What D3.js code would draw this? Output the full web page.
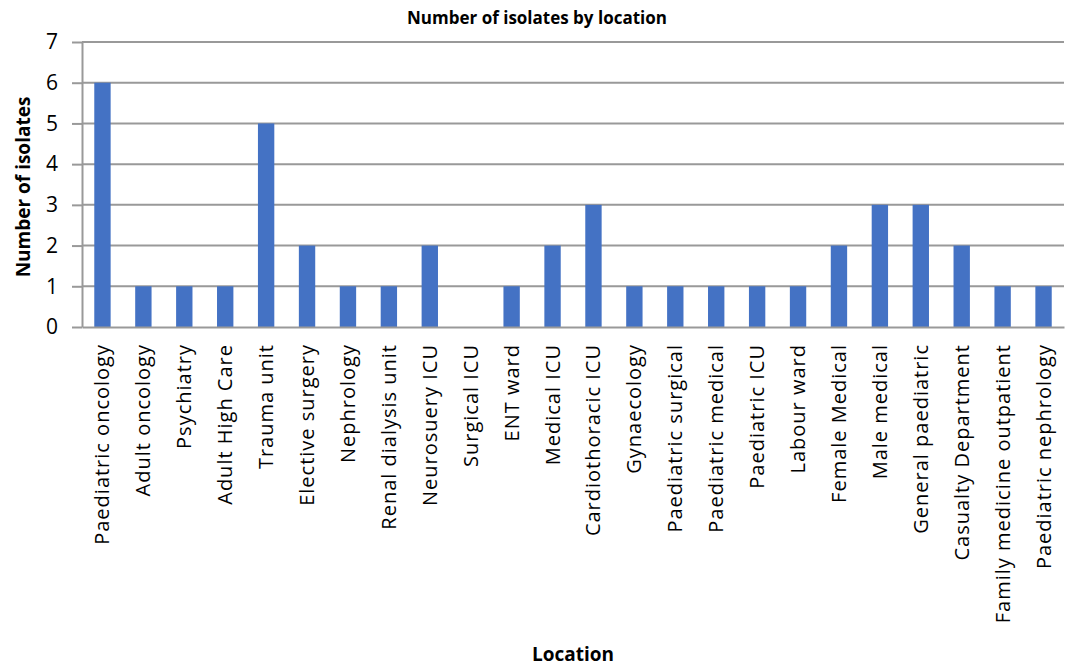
<!DOCTYPE html>
<html>
<head>
<meta charset="utf-8">
<script src="https://cdn.jsdelivr.net/npm/d3@7"></script>
<style>
  body { margin: 0; background: #fff; }
  svg text { font-family: "Open Sans", "Noto Sans", sans-serif; fill: #000; }
  .title { font-weight: bold; font-size: 17px; }
  .axis-label { font-weight: bold; font-size: 19px; }
</style>
</head>
<body>
<svg id="chart" width="1072" height="667"></svg>
<script>
// DATA
const locations = [
  "Paediatric oncology", "Adult oncology", "Psychiatry", "Adult High Care",
  "Trauma unit", "Elective surgery", "Nephrology", "Renal dialysis unit",
  "Neurosuery ICU", "Surgical ICU", "ENT ward", "Medical ICU",
  "Cardiothoracic ICU", "Gynaecology", "Paediatric surgical", "Paediatric medical",
  "Paediatric ICU", "Labour ward", "Female Medical", "Male medical",
  "General paediatric", "Casualty Department", "Family medicine outpatient", "Paediatric nephrology"
];
const isolates = [6, 1, 1, 1, 5, 2, 1, 1, 2, 0, 1, 2, 3, 1, 1, 1, 1, 1, 2, 3, 3, 2, 1, 1];
const yTicks = [0, 1, 2, 3, 4, 5, 6, 7];

// SETUP
const margin = { top: 42, right: 8, bottom: 340, left: 82 },
      width = 1072 - margin.left - margin.right,
      height = 667 - margin.top - margin.bottom;

const svg = d3.select("#chart");
const g = svg.append("g")
    .attr("transform", `translate(${margin.left},${margin.top})`);

// SCALES
const x = d3.scaleBand()
    .domain(locations)
    .range([0, width])
    .paddingInner(0.6)
    .paddingOuter(0.3);

const y = d3.scaleLinear()
    .domain([0, 7])
    .range([height, 0]);

// GRIDLINES + Y AXIS
const yAxis = g.append("g")
    .call(d3.axisLeft(y).tickValues(yTicks).tickFormat(d3.format("d")).tickSize(10).tickSizeOuter(0));
yAxis.select(".domain").attr("stroke", "#999").attr("stroke-width", 2);
yAxis.selectAll(".tick line").attr("stroke", "#999").attr("stroke-width", 2);
yAxis.selectAll(".tick text")
    .attr("x", -24)
    .style("font-size", "21px");

g.append("g")
  .selectAll("line")
  .data(yTicks.filter(d => d > 0))
  .join("line")
    .attr("x1", 0)
    .attr("x2", width)
    .attr("y1", d => y(d))
    .attr("y2", d => y(d))
    .attr("stroke", "#999")
    .attr("stroke-width", 2);

// BARS
g.append("g")
  .selectAll("rect")
  .data(locations.map((l, i) => ({ l, v: isolates[i] })))
  .join("rect")
    .attr("x", d => x(d.l))
    .attr("y", d => y(d.v))
    .attr("width", x.bandwidth())
    .attr("height", d => height - y(d.v))
    .attr("fill", "#4472c4");

// X AXIS
const xAxis = g.append("g")
    .attr("transform", `translate(0,${height})`)
    .call(d3.axisBottom(x).tickSize(0).tickSizeOuter(0));
xAxis.select(".domain").attr("stroke", "#999").attr("stroke-width", 2);
xAxis.selectAll(".tick text")
    .attr("transform", "rotate(-90)")
    .attr("text-anchor", "end")
    .attr("x", -17)
    .attr("y", 0)
    .attr("dy", "0.35em")
    .style("font-size", "20px")
    .style("letter-spacing", "1px");

// LABELS
svg.append("text")
    .attr("class", "title")
    .attr("text-anchor", "middle")
    .attr("x", 537)
    .attr("y", 24)
    .text("Number of isolates by location");

svg.append("text")
    .attr("class", "axis-label")
    .attr("text-anchor", "middle")
    .attr("x", 573)
    .attr("y", 661)
    .text("Location");

svg.append("text")
    .attr("class", "axis-label")
    .attr("text-anchor", "middle")
    .attr("transform", "rotate(-90)")
    .attr("x", -187)
    .attr("y", 30)
    .text("Number of isolates");
</script>
</body>
</html>
